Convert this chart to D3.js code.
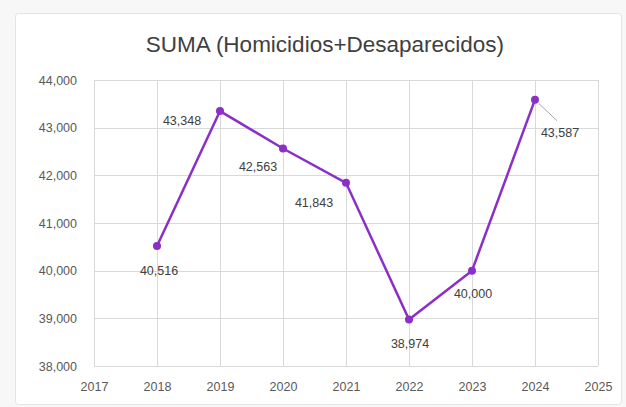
<!DOCTYPE html>
<html>
<head>
<meta charset="utf-8">
<script src="https://cdn.jsdelivr.net/npm/d3@7"></script>
<style>
  body { margin: 0; background: #f7f7f7; }
  svg { display: block; }
</style>
</head>
<body>
<div id="chart"></div>
<script>
// data
var years = [2018, 2019, 2020, 2021, 2022, 2023, 2024];
var totals = [40516, 43348, 42563, 41843, 38974, 40000, 43587];
var yTicks = [38000, 39000, 40000, 41000, 42000, 43000, 44000];
var xTicks = [2017, 2018, 2019, 2020, 2021, 2022, 2023, 2024, 2025];
// label offsets (dx, dy) relative to each point
var labelPos = [[2, 29], [-38, 14], [-25, 23], [-32, 24], [1, 28], [1, 27], [25, 37]];

var w = 626, h = 407;
var margin = {top: 80, right: 28, bottom: 41, left: 94};

var svg = d3.select("#chart")
    .append("svg")
        .attr("width", w)
        .attr("height", h);

svg.append("rect")
    .attr("x", 15.5).attr("y", 13.5)
    .attr("width", 606).attr("height", 391)
    .attr("rx", 3)
    .attr("fill", "white")
    .attr("stroke", "#e4e4e4");

svg.append("text")
    .attr("x", 325).attr("y", 52)
    .attr("text-anchor", "middle")
    .style("font", "22.5px 'Liberation Sans', Arial, sans-serif")
    .style("fill", "#404040")
    .text("SUMA (Homicidios+Desaparecidos)");

var x = d3.scaleLinear()
    .domain([2017, 2025])
    .range([margin.left, w - margin.right]);

var y = d3.scaleLinear()
    .domain([38000, 44000])
    .range([h - margin.bottom, margin.top]);

// gridlines
svg.append("g")
    .selectAll("line")
    .data(yTicks)
    .enter().append("line")
        .attr("x1", margin.left).attr("x2", w - margin.right)
        .attr("y1", function(d){ return Math.round(y(d)) + 0.5; })
        .attr("y2", function(d){ return Math.round(y(d)) + 0.5; })
        .attr("stroke", "#d9d9d9");

svg.append("g")
    .selectAll("line")
    .data(xTicks)
    .enter().append("line")
        .attr("y1", margin.top).attr("y2", h - margin.bottom)
        .attr("x1", function(d){ return Math.round(x(d)) + 0.5; })
        .attr("x2", function(d){ return Math.round(x(d)) + 0.5; })
        .attr("stroke", "#d9d9d9");

// axes
var yAxis = svg.append("g")
    .attr("transform", "translate(" + (margin.left - 14) + ",0)")
    .call(d3.axisLeft(y).tickValues(yTicks).tickSize(0).tickFormat(d3.format(",")));
var xAxis = svg.append("g")
    .attr("transform", "translate(0," + (h - margin.bottom + 13) + ")")
    .call(d3.axisBottom(x).tickValues(xTicks).tickSize(0).tickFormat(d3.format("d")));

[yAxis, xAxis].forEach(function(a){
    a.select(".domain").remove();
    a.selectAll("text")
        .style("font", "12.5px 'Liberation Sans', Arial, sans-serif")
        .style("fill", "#595959");
});

var data = years.map(function(d, i){ return {year: d, value: totals[i], pos: labelPos[i]}; });

var line = d3.line()
    .x(function(d){ return x(d.year); })
    .y(function(d){ return y(d.value); });

svg.append("path")
    .datum(data)
    .attr("d", line)
    .attr("fill", "none")
    .attr("stroke", "#8b2fc9")
    .attr("stroke-width", 2.5);

svg.selectAll(".dot")
    .data(data)
    .enter().append("circle")
        .attr("class", "dot")
        .attr("cx", function(d){ return x(d.year); })
        .attr("cy", function(d){ return y(d.value); })
        .attr("r", 4)
        .attr("fill", "#8b2fc9");

// leader line for last label
var last = data[data.length - 1];
svg.append("line")
    .attr("x1", x(last.year) + 4).attr("y1", y(last.value) + 4)
    .attr("x2", x(last.year) + 22).attr("y2", y(last.value) + 21)
    .attr("stroke", "#a6a6a6");

svg.selectAll(".lbl")
    .data(data)
    .enter().append("text")
        .attr("class", "lbl")
        .attr("x", function(d){ return x(d.year) + d.pos[0]; })
        .attr("y", function(d){ return y(d.value) + d.pos[1]; })
        .attr("text-anchor", "middle")
        .style("font", "12.5px 'Liberation Sans', Arial, sans-serif")
        .style("fill", "#404040")
        .text(function(d){ return d3.format(",")(d.value); });
</script>
</body>
</html>
